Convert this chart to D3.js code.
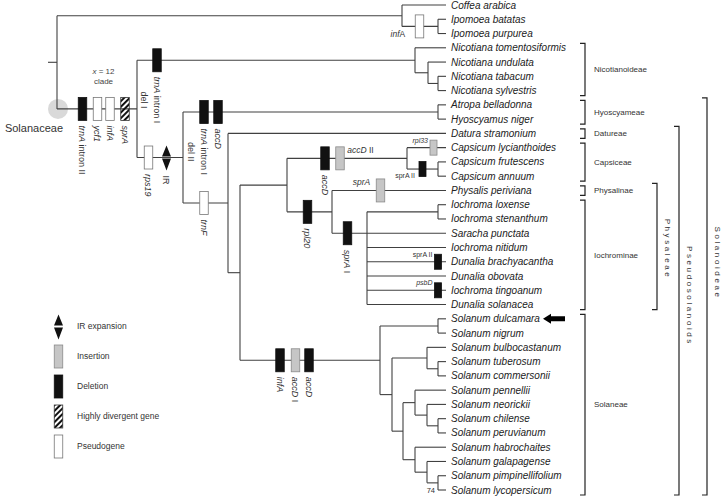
<!DOCTYPE html>
<html><head><meta charset="utf-8">
<script src="https://cdn.jsdelivr.net/npm/d3@7"></script>
<style>body{margin:0;background:#fff}svg{display:block}</style>
</head><body>
<script>
// ---------------- DATA ----------------
const leaves = [
 "Coffea arabica","Ipomoea batatas","Ipomoea purpurea",
 "Nicotiana tomentosiformis","Nicotiana undulata","Nicotiana tabacum","Nicotiana sylvestris",
 "Atropa belladonna","Hyoscyamus niger","Datura stramonium",
 "Capsicum lycianthoides","Capsicum frutescens","Capsicum annuum",
 "Physalis periviana","Iochroma loxense","Iochroma stenanthum","Saracha punctata",
 "Iochroma nitidum","Dunalia brachyacantha","Dunalia obovata","Iochroma tingoanum","Dunalia solanacea",
 "Solanum dulcamara","Solanum nigrum","Solanum bulbocastanum","Solanum tuberosum","Solanum commersonii",
 "Solanum pennellii","Solanum neorickii","Solanum chilense","Solanum peruvianum",
 "Solanum habrochaites","Solanum galapagense","Solanum pimpinellifolium","Solanum lycopersicum"];

// internal nodes: distance from the root stem (tree units)
const clades = [
 {id:"root", dist:9, children:["outgroup","Solanaceae"]},
 {id:"outgroup", dist:354, children:["Coffea arabica","Ipomoea"]},
 {id:"Ipomoea", dist:390, children:["Ipomoea batatas","Ipomoea purpurea"]},
 {id:"Solanaceae", dist:89, children:["Nicotiana","Solanoideae"]},
 {id:"Nicotiana", dist:367, children:["Nicotiana tomentosiformis","Nic2"]},
 {id:"Nic2", dist:380, children:["Nicotiana undulata","Nic3"]},
 {id:"Nic3", dist:390, children:["Nicotiana tabacum","Nicotiana sylvestris"]},
 {id:"Solanoideae", dist:135, children:["Hyoscyameae","Pseudosolanoids"]},
 {id:"Hyoscyameae", dist:390, children:["Atropa belladonna","Hyoscyamus niger"]},
 {id:"Pseudosolanoids", dist:180, children:["Datura stramonium","Core"]},
 {id:"Core", dist:192, children:["CapPhys","Solaneae"]},
 {id:"CapPhys", dist:239, children:["Capsiceae","Physaleae"]},
 {id:"Capsiceae", dist:359, children:["Capsicum lycianthoides","Caps2"]},
 {id:"Caps2", dist:390, children:["Capsicum frutescens","Capsicum annuum"]},
 {id:"Physaleae", dist:284, children:["Physalis periviana","Iochrominae"]},
 {id:"Iochrominae", dist:319, stemAt:"Saracha punctata", children:["Ioch2","Saracha punctata","Iochroma nitidum","Dunalia brachyacantha","Dunalia obovata","Iochroma tingoanum","Dunalia solanacea"]},
 {id:"Ioch2", dist:390, children:["Iochroma loxense","Iochroma stenanthum"]},
 {id:"Solaneae", dist:332, children:["Sol1","Sol2"]},
 {id:"Sol1", dist:390, children:["Solanum dulcamara","Solanum nigrum"]},
 {id:"Sol2", dist:344, children:["Potato","Lyco"]},
 {id:"Potato", dist:379, children:["Solanum bulbocastanum","Potato2"]},
 {id:"Potato2", dist:390, children:["Solanum tuberosum","Solanum commersonii"]},
 {id:"Lyco", dist:355, children:["LycoA","LycoB"]},
 {id:"LycoA", dist:367, children:["Solanum pennellii","LycoA2"]},
 {id:"LycoA2", dist:379, children:["Solanum neorickii","LycoA3"]},
 {id:"LycoA3", dist:390, children:["Solanum chilense","Solanum peruvianum"]},
 {id:"LycoB", dist:367, children:["Solanum habrochaites","LycoB2"]},
 {id:"LycoB2", dist:379, children:["Solanum galapagense","LycoB3"]},
 {id:"LycoB3", dist:390, children:["Solanum pimpinellifolium","Solanum lycopersicum"]}
];
const leafDist = 398;

// genomic events on branches (at = distance along tree)
const events = [
 {branch:"Solanaceae", at:34.5, type:"deletion", label:["*trnA* intron II"], place:"below"},
 {branch:"Solanaceae", at:49.5, type:"pseudogene", label:["*ycf1*"], place:"below"},
 {branch:"Solanaceae", at:62, type:"pseudogene", label:["*infA*"], place:"below"},
 {branch:"Solanaceae", at:77, type:"divergent", label:["*sprA*"], place:"below"},
 {branch:"Nicotiana", at:109, type:"deletion", label:["*trnA* intron I","del I"], place:"below"},
 {branch:"Solanoideae", at:100.5, type:"pseudogene", label:["*rps19*"], place:"below"},
 {branch:"Solanoideae", at:118.5, type:"ir", label:["IR"], place:"below"},
 {branch:"Hyoscyameae", at:156, type:"deletion", label:["*trnA* intron I","del II"], place:"below"},
 {branch:"Hyoscyameae", at:170, type:"deletion", label:["*accD*"], place:"below"},
 {branch:"Pseudosolanoids", at:156, type:"pseudogene", label:["*trnF*"], place:"below"},
 {branch:"Ipomoea", at:371.5, type:"pseudogene", label:["*inf*A"], place:"lb"},
 {branch:"Capsiceae", at:277, type:"deletion", label:["*accD*"], place:"below"},
 {branch:"Capsiceae", at:292, type:"insertion", label:["*accD* II"], place:"rt"},
 {branch:"Capsicum lycianthoides", at:385.5, type:"insertion", minor:true, label:["*rpl33*"], place:"lt"},
 {branch:"Caps2", at:374.5, type:"deletion", minor:true, label:["sprA II"], place:"lb"},
 {branch:"Physaleae", at:259.5, type:"deletion", label:["*rpl20*"], place:"below"},
 {branch:"Physalis periviana", at:332.5, type:"insertion", label:["*sprA*"], place:"lt"},
 {branch:"Iochrominae", at:299.5, type:"deletion", label:["*sprA* I"], place:"below"},
 {branch:"Dunalia brachyacantha", at:390, type:"deletion", minor:true, label:["sprA II"], place:"lt"},
 {branch:"Iochroma tingoanum", at:390, type:"deletion", minor:true, label:["*psbD*"], place:"lt"},
 {branch:"Solaneae", at:232, type:"deletion", label:["*infA*"], place:"below"},
 {branch:"Solaneae", at:247.5, type:"insertion", label:["*accD* I"], place:"below"},
 {branch:"Solaneae", at:261, type:"deletion", label:["*accD*"], place:"below"}
];

const brackets = [
 {label:"Nicotianoideae", first:"Nicotiana tomentosiformis", last:"Nicotiana sylvestris", level:0},
 {label:"Hyoscyameae", first:"Atropa belladonna", last:"Hyoscyamus niger", level:0},
 {label:"Datureae", first:"Datura stramonium", last:"Datura stramonium", level:0},
 {label:"Capsiceae", first:"Capsicum lycianthoides", last:"Capsicum annuum", level:0},
 {label:"Physalinae", first:"Physalis periviana", last:"Physalis periviana", level:0},
 {label:"Iochrominae", first:"Iochroma loxense", last:"Dunalia solanacea", level:0},
 {label:"Solaneae", first:"Solanum dulcamara", last:"Solanum lycopersicum", level:0},
 {label:"Physaleae", first:"Physalis periviana", last:"Dunalia solanacea", level:1},
 {label:"Pseudosolanoids", first:"Datura stramonium", last:"Solanum lycopersicum", level:2},
 {label:"Solanoideae", first:"Atropa belladonna", last:"Solanum lycopersicum", level:3}
];

const legendItems = [
 {type:"ir", label:"IR expansion"},
 {type:"insertion", label:"Insertion"},
 {type:"deletion", label:"Deletion"},
 {type:"divergent", label:"Highly divergent gene"},
 {type:"pseudogene", label:"Pseudogene"}
];
const bootstrap = [{node:"LycoB3", value:"74"}];
const highlighted = "Solanum dulcamara";

// ---------------- LAYOUT ----------------
const W = 726, H = 498;
const svg = d3.select("body").append("svg").attr("width", W).attr("height", H)
  .attr("font-family", "'Liberation Sans', Arial, sans-serif");

const x = d3.scaleLinear().domain([0, 400]).range([48, 448]);
const y = d3.scalePoint().domain(leaves).range([5, 490]);

const cladeMap = new Map(clades.map(c => [c.id, c]));
function build(name) {
  const c = cladeMap.get(name);
  if (!c) return {name, leaf: true};
  return {name, dist: c.dist, stemAt: c.stemAt, children: c.children.map(build)};
}
const root = d3.hierarchy(build("root"));
root.eachAfter(n => {
  if (n.data.leaf) { n.px = x(leafDist); n.py = y(n.data.name); }
  else {
    n.px = x(n.data.dist);
    const ch = n.children;
    n.py = n.data.stemAt ? ch.find(c => c.data.name === n.data.stemAt).py : (ch[0].py + ch[ch.length - 1].py) / 2;
  }
});
const nodeBy = new Map(root.descendants().map(n => [n.data.name, n]));

const defs = svg.append("defs");
defs.append("pattern").attr("id", "hatch").attr("patternUnits", "userSpaceOnUse")
  .attr("width", 4).attr("height", 4).attr("patternTransform", "rotate(45)")
  .append("rect").attr("width", 2).attr("height", 4).attr("fill", "#111");

// root circle
const solNode = nodeBy.get("Solanaceae");
svg.append("circle").attr("cx", root.px + 1).attr("cy", solNode.py).attr("r", 10).attr("fill", "#d9d9d9");

// ---------------- TREE ----------------
const lineColor = "#404040";
const tree = svg.append("g").attr("stroke", lineColor).attr("stroke-width", 1.1).attr("fill", "none");
// root stem
tree.append("line").attr("x1", x(0)).attr("x2", root.px).attr("y1", root.py).attr("y2", root.py);
root.descendants().forEach(n => {
  if (n.parent) tree.append("line").attr("x1", n.parent.px).attr("x2", n.px).attr("y1", n.py).attr("y2", n.py);
  if (n.children) {
    const ys = n.children.map(c => c.py);
    tree.append("line").attr("x1", n.px).attr("x2", n.px).attr("y1", d3.min(ys)).attr("y2", d3.max(ys));
  }
});

// leaf labels
svg.append("g").selectAll("text").data(leaves).join("text")
  .attr("x", x(leafDist) + 5).attr("y", d => y(d)).attr("dy", "0.35em")
  .attr("font-size", 10).attr("font-style", "italic").attr("fill", "#222").text(d => d);

function richText(sel, s) {
  s.split(/(\*[^*]+\*)/).filter(Boolean).forEach(p => {
    const it = p.startsWith("*");
    sel.append("tspan").attr("font-style", it ? "italic" : null).text(it ? p.slice(1, -1) : p);
  });
}

function drawMarker(g, type, cx, cy, minor) {
  const w = minor ? 7 : 8.5, h = minor ? 15 : 23;
  if (type === "ir") {
    g.append("path").attr("fill", "#111")
      .attr("d", `M${cx-4.5},${cy-1}L${cx+4.5},${cy-1}L${cx},${cy-12}Z M${cx-4.5},${cy+1}L${cx+4.5},${cy+1}L${cx},${cy+13}Z`);
    return {left: cx - 4.5, right: cx + 4.5, top: cy - 12, bottom: cy + 13};
  }
  const style = {
    deletion: {fill: "#111", stroke: "#111"},
    insertion: {fill: "#c6c6c6", stroke: "#8a8a8a"},
    pseudogene: {fill: "#fff", stroke: "#777"},
    divergent: {fill: "url(#hatch)", stroke: "#333"}
  }[type];
  g.append("rect").attr("x", cx - w / 2).attr("y", cy - h / 2).attr("width", w).attr("height", h)
    .attr("fill", style.fill).attr("stroke", style.stroke).attr("stroke-width", 0.8);
  return {left: cx - w / 2, right: cx + w / 2, top: cy - h / 2, bottom: cy + h / 2};
}

// ---------------- EVENTS ----------------
const evG = svg.append("g");
events.forEach(e => {
  const n = nodeBy.get(e.branch);
  const cx = x(e.at), cy = n.py;
  const b = drawMarker(evG, e.type, cx, cy, e.minor);
  if (e.place === "below") {
    const g = evG.append("g").attr("transform", `translate(${cx},${b.bottom + 5}) rotate(90)`)
      .attr("font-size", 9).attr("fill", "#333");
    const t1 = g.append("text").attr("dy", "0.35em");
    richText(t1, e.label[0]);
    if (e.label[1]) {
      const len = t1.node().getComputedTextLength();
      const t2 = g.append("text").attr("x", len / 2).attr("y", 13).attr("dy", "0.35em").attr("text-anchor", "middle");
      richText(t2, e.label[1]);
    }
  } else {
    const fs = e.minor ? 7 : 8.5;
    let tx, ty, anchor;
    if (e.place === "lt") { tx = b.left - (e.minor ? 2 : 6); ty = cy - 5; anchor = "end"; }
    else if (e.place === "lb") { tx = b.left - (e.minor ? 4 : 10); ty = cy + (e.minor ? 9 : 11); anchor = "end"; }
    else { tx = b.right + 3; ty = cy - 5; anchor = "start"; }
    const t = evG.append("text").attr("x", tx).attr("y", ty).attr("text-anchor", anchor)
      .attr("font-size", fs).attr("fill", "#333");
    richText(t, e.label[0]);
  }
});

// x = 12 clade annotation
const ann = svg.append("g").attr("font-size", 8).attr("fill", "#444").attr("text-anchor", "middle");
const annT = ann.append("text").attr("x", x(55.5)).attr("y", solNode.py - 35);
richText(annT, "*x* = 12");
ann.append("text").attr("x", x(55.5)).attr("y", solNode.py - 25).text("clade");

// Solanaceae label
svg.append("text").attr("x", root.px + 6).attr("y", solNode.py + 23).attr("text-anchor", "end")
  .attr("font-size", 11).attr("fill", "#333").text("Solanaceae");

// bootstrap
bootstrap.forEach(bs => {
  const n = nodeBy.get(bs.node);
  svg.append("text").attr("x", n.px - 3).attr("y", n.children[1].py + 2.5).attr("text-anchor", "end")
    .attr("font-size", 7.5).attr("fill", "#333").text(bs.value);
});

// arrow at highlighted taxon
const ay = y(highlighted);
svg.append("path").attr("fill", "#000")
  .attr("d", `M543,${ay}L551,${ay-5}L551,${ay-2.5}L565,${ay-2.5}L565,${ay+2.5}L551,${ay+2.5}L551,${ay+5}Z`);

// ---------------- BRACKETS ----------------
const bracketX = [585, 657, 679, 707];
const rotLabelY = {Physaleae: 249, Pseudosolanoids: 296, Solanoideae: 263};
const bg = svg.append("g");
brackets.forEach(br => {
  const bx = bracketX[br.level];
  const y0 = y(br.first) - (br.level ? 7 : 4.5), y1 = y(br.last) + 5;
  bg.append("path").attr("fill", "none").attr("stroke", "#222").attr("stroke-width", 1.2)
    .attr("d", `M${bx-5},${y0}H${bx}V${y1}H${bx-5}`);
  if (br.level === 0) {
    bg.append("text").attr("x", bx + 9).attr("y", (y0 + y1) / 2).attr("dy", "0.35em")
      .attr("font-size", 8).attr("fill", "#333").text(br.label);
  } else {
    bg.append("text").attr("transform", `translate(${bx + 11},${rotLabelY[br.label]}) rotate(90)`)
      .attr("text-anchor", "middle").attr("dy", "0.35em").attr("font-size", 8)
      .attr("letter-spacing", 2.6).attr("fill", "#333").text(br.label);
  }
});

// ---------------- LEGEND ----------------
const lg = svg.append("g");
legendItems.forEach((it, i) => {
  const cy = 326.5 + i * 30;
  drawMarker(lg, it.type, 58.5, cy, false);
  lg.append("text").attr("x", 77).attr("y", cy).attr("dy", "0.35em").attr("font-size", 8.5)
    .attr("fill", "#333").text(it.label);
});
</script>
</body></html>
